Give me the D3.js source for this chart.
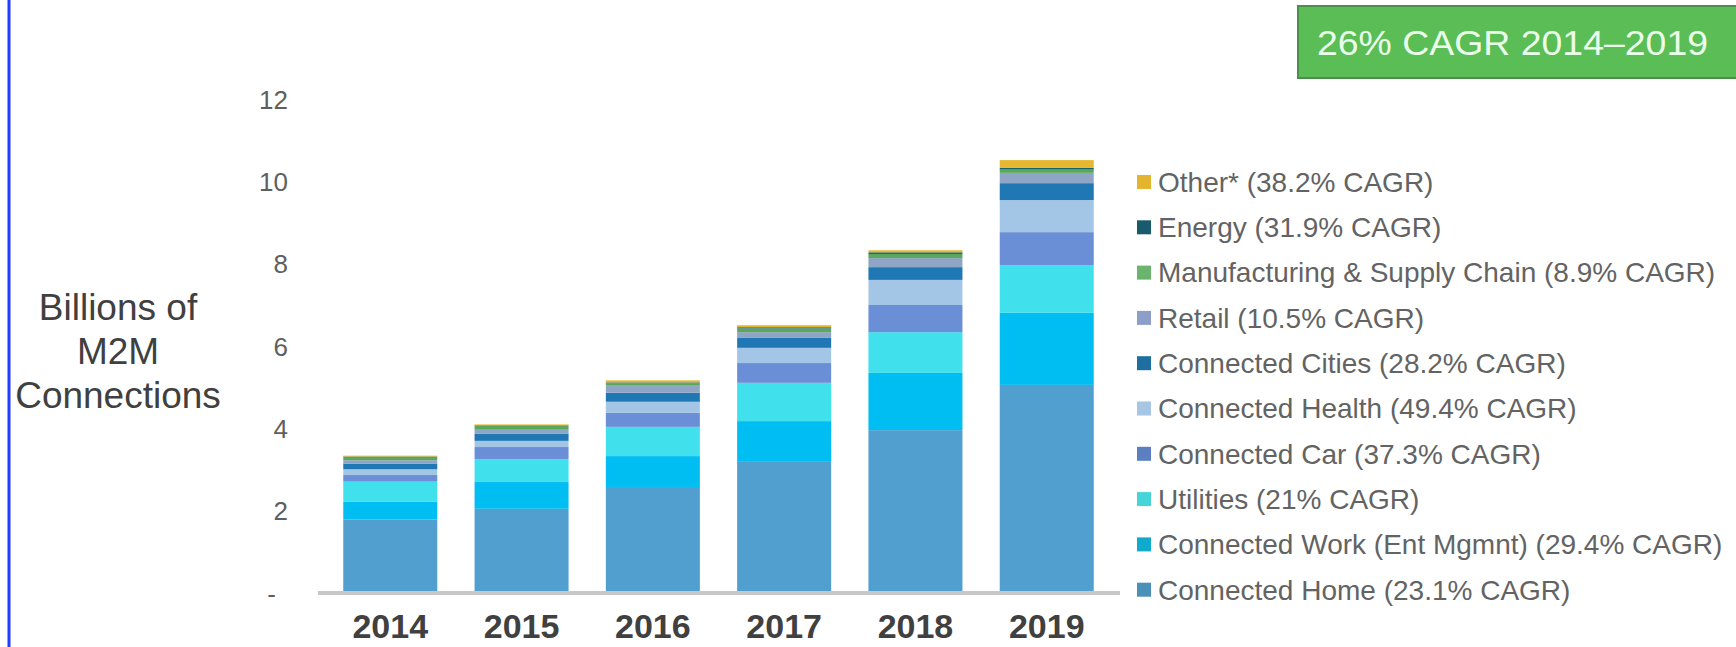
<!DOCTYPE html>
<html>
<head>
<meta charset="utf-8">
<script src="https://cdn.jsdelivr.net/npm/d3@7"></script>
<style>
  html, body { margin: 0; padding: 0; background: #ffffff; }
  svg { display: block; font-family: "Liberation Sans", Arial, sans-serif; }
</style>
</head>
<body>
<svg id="chart" width="1736" height="647"></svg>
<script>
// ---- data ----
const years = ["2014", "2015", "2016", "2017", "2018", "2019"];
// stack order bottom -> top
const seriesNames = [
  "Connected Home (23.1% CAGR)",
  "Connected Work (Ent Mgmnt) (29.4% CAGR)",
  "Utilities (21% CAGR)",
  "Connected Car (37.3% CAGR)",
  "Connected Health (49.4% CAGR)",
  "Connected Cities (28.2% CAGR)",
  "Retail (10.5% CAGR)",
  "Manufacturing & Supply Chain (8.9% CAGR)",
  "Energy (31.9% CAGR)",
  "Other* (38.2% CAGR)"
];
const home          = [1.81, 2.07, 2.60, 3.21, 3.98, 5.08];
const work          = [0.43, 0.65, 0.75, 0.99, 1.39, 1.75];
const utilities     = [0.49, 0.55, 0.71, 0.93, 0.99, 1.16];
const car           = [0.16, 0.30, 0.34, 0.48, 0.66, 0.80];
const health        = [0.14, 0.15, 0.27, 0.37, 0.61, 0.78];
const cities        = [0.14, 0.17, 0.22, 0.24, 0.31, 0.41];
const retail        = [0.08, 0.10, 0.17, 0.14, 0.22, 0.25];
const manufacturing = [0.08, 0.10, 0.06, 0.09, 0.10, 0.08];
const energy        = [0.01, 0.01, 0.02, 0.03, 0.04, 0.04];
const other         = [0.02, 0.02, 0.05, 0.05, 0.05, 0.19];
const yTicks = [0, 2, 4, 6, 8, 10, 12];
const yTickLabels = ["-", "2", "4", "6", "8", "10", "12"];
const yTitleLines = ["Billions of", "M2M", "Connections"];
const badgeText = "26% CAGR 2014\u20132019";

// ---- styles ----
const barColors = ["#519fcf", "#00bdf2", "#40e0ec", "#6b8fd6", "#a3c6e6",
                   "#1f77b4", "#8fa5c6", "#5aa85c", "#1b5e70", "#e6b830"];
const swatchColors = ["#4a90b8", "#10aacc", "#45d5d8", "#5b7fc0", "#a6c6e4",
                      "#1e6fa0", "#8c9fc8", "#6ab46e", "#1a5a6e", "#e3b52e"];

const valuesBySeries = [home, work, utilities, car, health, cities, retail, manufacturing, energy, other];
const table = years.map((yr, i) => {
  const row = { year: yr };
  seriesNames.forEach((s, k) => row[s] = valuesBySeries[k][i]);
  return row;
});

const svg = d3.select("#chart");

// left blue rule
svg.append("line").attr("x1", 9).attr("x2", 9).attr("y1", 0).attr("y2", 647)
  .attr("stroke", "#1f3cff").attr("stroke-width", 3);

const x = d3.scaleBand().domain(years).range([317, 1120]).paddingInner(0.284).paddingOuter(0.2);
const y = d3.scaleLinear().domain([0, 12]).range([594, 100]);

const stack = d3.stack().keys(seriesNames);
const stacked = stack(table);

svg.append("g").selectAll("g").data(stacked).join("g")
  .attr("fill", (d, i) => barColors[i])
  .selectAll("rect").data(d => d).join("rect")
  .attr("x", d => x(d.data.year))
  .attr("width", x.bandwidth())
  .attr("y", d => y(d[1]))
  .attr("height", d => y(d[0]) - y(d[1]));

// baseline
svg.append("line")
  .attr("x1", 318).attr("x2", 1120)
  .attr("y1", 593).attr("y2", 593)
  .attr("stroke", "#c8c8c8").attr("stroke-width", 4);

// y axis
const yAxis = svg.append("g").attr("transform", "translate(290,0)")
  .call(d3.axisLeft(y).tickValues(yTicks)
    .tickFormat((d, i) => yTickLabels[i]).tickSize(0).tickPadding(2));
yAxis.select(".domain").remove();
yAxis.selectAll("text")
  .attr("font-size", 26).attr("fill", "#5f5f5f")
  .attr("font-family", "Liberation Sans, Arial, sans-serif")
  .attr("dx", d => d === 0 ? -12 : 0);

// x axis labels
const xAxis = svg.append("g").attr("transform", "translate(0,593)")
  .call(d3.axisBottom(x).tickSize(0));
xAxis.select(".domain").remove();
xAxis.selectAll("text")
  .attr("y", 45).attr("dy", 0)
  .attr("font-size", 34).attr("font-weight", "bold").attr("fill", "#404040")
  .attr("font-family", "Liberation Sans, Arial, sans-serif");

// y title
svg.append("g").selectAll("text").data(yTitleLines).join("text")
  .attr("x", 118).attr("y", (d, i) => 307 + i * 44)
  .attr("dy", "0.35em")
  .attr("text-anchor", "middle")
  .attr("font-size", 37).attr("fill", "#404040")
  .text(d => d);

// legend (top to bottom reverse of stack)
const legendItems = seriesNames.map((s, i) => ({ name: s, color: swatchColors[i] })).reverse();
const lg = svg.append("g").selectAll("g").data(legendItems).join("g")
  .attr("transform", (d, i) => `translate(1137,${182 + i * 45.3})`);
lg.append("rect").attr("x", 0).attr("y", -7).attr("width", 14).attr("height", 14)
  .attr("fill", d => d.color);
lg.append("text").attr("x", 21).attr("y", 0).attr("dy", "0.35em")
  .attr("font-size", 28).attr("fill", "#636363")
  .text(d => d.name);

// badge
svg.append("rect").attr("x", 1298).attr("y", 6).attr("width", 460).attr("height", 72)
  .attr("fill", "#5bbd55").attr("stroke", "#4c8f4c").attr("stroke-width", 2);
svg.append("text").attr("x", 1317).attr("y", 43).attr("dy", "0.35em")
  .attr("font-size", 35).attr("fill", "#eaffea")
  .attr("textLength", 391).attr("lengthAdjust", "spacingAndGlyphs")
  .text(badgeText);
</script>
</body>
</html>
